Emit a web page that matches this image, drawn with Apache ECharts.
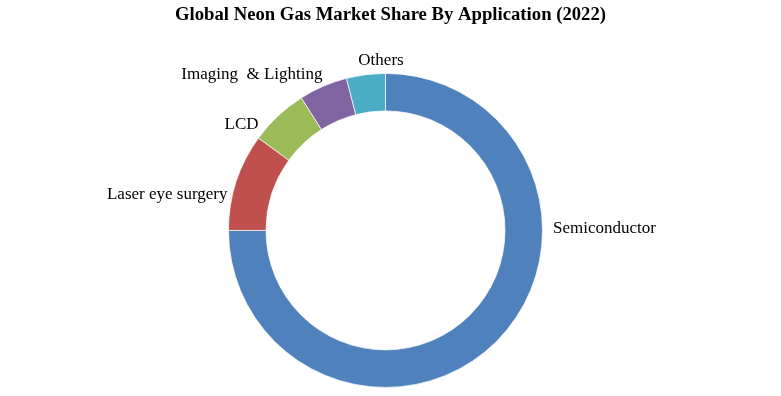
<!DOCTYPE html>
<html>
<head>
<meta charset="utf-8">
<script src="https://cdn.jsdelivr.net/npm/echarts@6/dist/echarts.min.js"></script>
<style>
html,body{margin:0;padding:0;background:#fff;}
#chart{width:781px;height:396px;}
</style>
</head>
<body>
<div id="chart"></div>
<script>
var titleText = 'Global Neon Gas Market Share By Application (2022)';
var categories = ['Semiconductor', 'Laser eye surgery', 'LCD', 'Imaging  & Lighting', 'Others'];
var shares = [75, 10, 6, 5, 4];
var colors = ['#4F81BD', '#C0504D', '#9BBB59', '#8064A2', '#4BACC6'];

var CX = 385.5, CY = 230.4;
// label anchor offsets relative to pie centre (layout only)
var labelPlacement = [
  { dx: 167.5, dy: -2, align: 'left' },
  { dx: -158, dy: -35.5, align: 'right' },
  { dx: -127, dy: -106, align: 'right' },
  { dx: -63, dy: -155.5, align: 'right' },
  { dx: -4.5, dy: -169.5, align: 'center' }
];

var chart = echarts.init(document.getElementById('chart'), null, { renderer: 'canvas' });
var data = categories.map(function (c, i) {
  return { name: c, value: shares[i], itemStyle: { color: colors[i] } };
});
chart.setOption({
  backgroundColor: '#ffffff',
  animation: false,
  title: {
    text: titleText,
    left: 'center',
    top: 5,
    padding: 0,
    textStyle: {
      fontFamily: 'Liberation Serif',
      fontWeight: 'bold',
      fontSize: 18.7,
      lineHeight: 20,
      color: '#000'
    }
  },
  series: [{
    type: 'pie',
    center: [CX, CY],
    radius: [119.5, 157],
    startAngle: 90,
    clockwise: true,
    avoidLabelOverlap: false,
    itemStyle: { borderColor: '#ffffff', borderWidth: 0.7 },
    label: {
      show: true,
      position: 'outside',
      formatter: '{b}',
      fontFamily: 'Liberation Serif',
      fontSize: 17,
      color: '#000'
    },
    labelLine: { show: false },
    labelLayout: function (p) {
      var lp = labelPlacement[p.dataIndex];
      return { x: CX + lp.dx, y: CY + lp.dy, align: lp.align, verticalAlign: 'middle' };
    },
    data: data
  }]
});
</script>
</body>
</html>
